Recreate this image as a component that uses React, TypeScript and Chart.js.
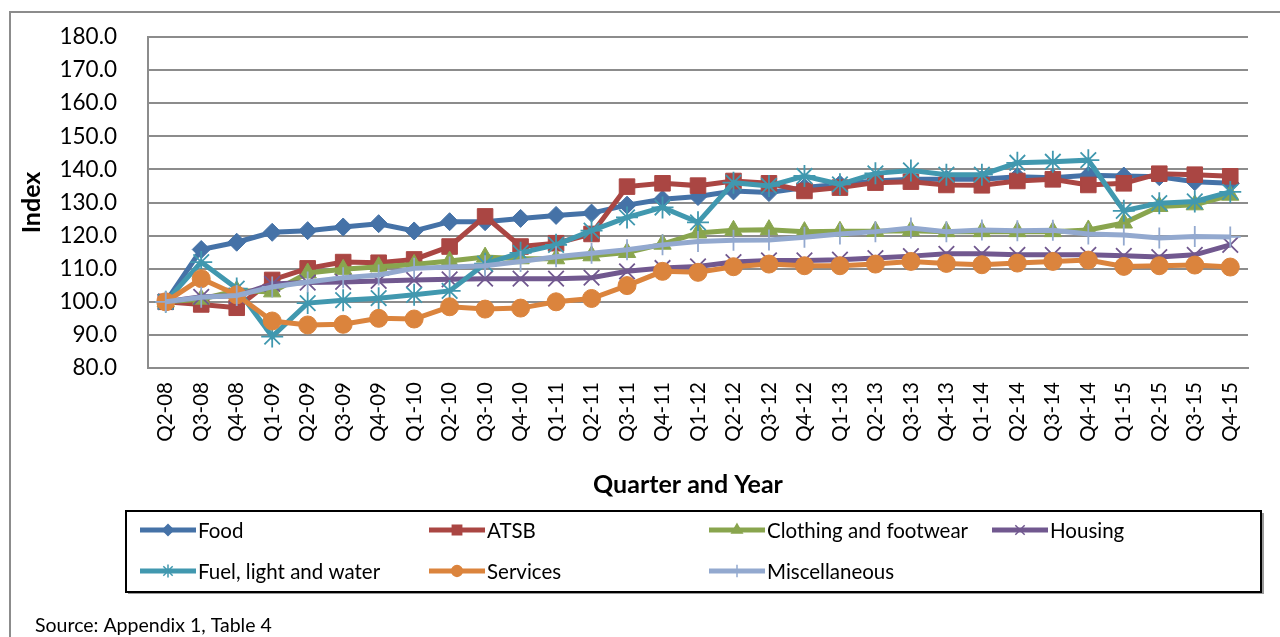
import React, { useEffect, useRef } from "react";
import { Chart, registerables } from "chart.js";
import { drawPoint } from "chart.js/helpers";

Chart.register(...registerables);

const categories = [
  "Q2-08", "Q3-08", "Q4-08", "Q1-09", "Q2-09", "Q3-09", "Q4-09", "Q1-10", "Q2-10", "Q3-10",
  "Q4-10", "Q1-11", "Q2-11", "Q3-11", "Q4-11", "Q1-12", "Q2-12", "Q3-12", "Q4-12", "Q1-13",
  "Q2-13", "Q3-13", "Q4-13", "Q1-14", "Q2-14", "Q3-14", "Q4-14", "Q1-15", "Q2-15", "Q3-15", "Q4-15",
];

const food = [100, 115.8, 118, 121, 121.5, 122.6, 123.6, 121.4, 124.2, 124.2, 125.2, 126.1, 126.8, 129.2, 131, 131.8, 133.5, 133, 134.5, 135.5, 136.5, 137, 137, 137, 137.8, 137.5, 138.2, 138, 137.8, 136.3, 135.8];
const atsb = [100, 99.2, 98.2, 106.6, 110.1, 112, 111.8, 112.8, 116.7, 125.8, 116.7, 117.7, 120.5, 134.8, 135.8, 135.1, 136.5, 135.8, 133.5, 134.5, 136, 136.3, 135.3, 135.2, 136.5, 137, 135.3, 135.8, 138.7, 138.4, 137.9];
const clothing = [100, 100.8, 103.4, 103, 108.7, 109.8, 110.6, 111.3, 112.3, 113.5, 113, 113, 113.9, 114.9, 117.4, 120.8, 121.6, 121.8, 121.2, 121.3, 121.3, 121.5, 121.2, 121.2, 121.2, 121.2, 121.7, 123.8, 128.8, 129.3, 132.2];
const housing = [100, 101.5, 101.8, 105.4, 105.8, 106, 106.3, 106.6, 106.8, 107, 107, 107, 107.3, 109.2, 110.2, 110.7, 112, 112.5, 112.5, 112.7, 113.2, 113.8, 114.5, 114.5, 114.2, 114.2, 114.2, 113.9, 113.5, 114.2, 117.2];
const fuel = [100, 112, 104, 89.5, 99.6, 100.5, 101.1, 102.1, 103.3, 111.5, 114.8, 117.2, 121.5, 125.5, 128.5, 124, 136, 135, 138, 135.5, 138.8, 139.7, 138.4, 138.4, 142, 142.3, 142.8, 127.5, 129.8, 130.3, 133.2];
const services = [100, 107, 102.1, 94.2, 93, 93.2, 95, 94.8, 98.5, 97.8, 98.1, 100, 101, 104.9, 109.2, 108.9, 110.6, 111.4, 110.9, 110.9, 111.4, 112.2, 111.6, 111.2, 111.7, 112.2, 112.6, 110.7, 110.9, 111.1, 110.5];
const misc = [100, 101.4, 101.9, 104.5, 106, 107.3, 108.1, 110.1, 110.5, 110.9, 112.2, 113.6, 114.7, 115.7, 117.2, 118.2, 118.6, 118.7, 119.5, 120.5, 121.2, 122.3, 121.2, 121.7, 121.5, 121.6, 120.5, 120.2, 119.3, 119.7, 119.6];

const yTicks = [80, 90, 100, 110, 120, 130, 140, 150, 160, 170, 180];

const seriesNames = ["Food", "ATSB", "Clothing and footwear", "Housing", "Fuel, light and water", "Services", "Miscellaneous"];
const seriesValues = [food, atsb, clothing, housing, fuel, services, misc];
const seriesColors = ["#4572A7", "#AA4643", "#89A54E", "#71588F", "#4198AF", "#DB843D", "#93A9CF"];
const seriesMarkers = ["rectRot", "rect", "triangle", "crossRot", "star", "circle", "cross"];
const markerRadius = [9, 11, 10, 11, 11, 9, 10.5];

const FONT = "Lato, 'Open Sans', sans-serif";

const framePlugin = {
  id: "frame",
  beforeDraw(chart: any) {
    const ctx = chart.ctx;
    ctx.save();
    ctx.fillStyle = "#ffffff";
    ctx.fillRect(0, 0, chart.width, chart.height);
    ctx.strokeStyle = "#8c8c8c";
    ctx.lineWidth = 2;
    ctx.beginPath();
    ctx.moveTo(10, 637);
    ctx.lineTo(10, 12);
    ctx.lineTo(1280, 12);
    ctx.stroke();
    ctx.restore();
  },
  afterDraw(chart: any) {
    const ctx = chart.ctx;
    ctx.save();
    // x axis title
    ctx.font = `bold 25px ${FONT}`;
    ctx.fillStyle = "#000000";
    ctx.textAlign = "center";
    ctx.textBaseline = "middle";
    ctx.fillText("Quarter and Year", 688, 485);

    // legend box with shadow
    ctx.fillStyle = "#9a9a9a";
    ctx.fillRect(128, 591, 1135, 3);
    ctx.fillRect(1261, 513, 3, 81);
    ctx.strokeStyle = "#000000";
    ctx.lineWidth = 2;
    ctx.strokeRect(126, 511, 1135, 81);

    const textX = [198, 487, 767, 1050];
    const rows = [530, 571];
    ctx.font = `20.5px ${FONT}`;
    ctx.textBaseline = "middle";
    ctx.textAlign = "left";
    seriesNames.forEach((name, i) => {
      const col = i < 4 ? i : i - 4;
      const row = i < 4 ? 0 : 1;
      const tx = textX[col];
      const y = rows[row];
      const color = seriesColors[i];
      ctx.strokeStyle = color;
      ctx.lineWidth = 5;
      ctx.lineCap = "butt";
      ctx.beginPath();
      ctx.moveTo(tx - 58, y);
      ctx.lineTo(tx - 2, y);
      ctx.stroke();
      ctx.fillStyle = color;
      ctx.strokeStyle = color;
      ctx.lineWidth = 1.5;
      drawPoint(ctx, { pointStyle: seriesMarkers[i] as any, radius: markerRadius[i] * 0.6, rotation: 0, borderWidth: 1.5 } as any, tx - 30, y);
      ctx.fillStyle = "#000000";
      ctx.fillText(name, tx, y + 1);
    });

    ctx.font = `19.5px ${FONT}`;
    ctx.fillStyle = "#000000";
    ctx.textBaseline = "alphabetic";
    ctx.fillText("Source: Appendix 1, Table 4", 35, 632);
    ctx.restore();
  },
};

export default function App() {
  const canvasRef = useRef<HTMLCanvasElement | null>(null);

  useEffect(() => {
    document.body.style.margin = "0";
    const canvas = canvasRef.current;
    if (!canvas) return;
    const datasets = seriesNames.map((name, i) => ({
      label: name,
      data: seriesValues[i],
      borderColor: seriesColors[i],
      backgroundColor: seriesColors[i],
      pointBackgroundColor: seriesColors[i],
      pointBorderColor: seriesColors[i],
      pointStyle: seriesMarkers[i] as any,
      pointRadius: markerRadius[i],
      pointBorderWidth: ["star", "cross", "crossRot"].includes(seriesMarkers[i]) ? 1.8 : 1,
      borderWidth: 5,
      tension: 0,
      fill: false,
      order: seriesNames.length - 1 - i,
    }));

    const chart = new Chart(canvas, {
      type: "line",
      data: { labels: categories, datasets },
      options: {
        animation: false,
        responsive: false,
        devicePixelRatio: 1,
        layout: { padding: { left: 0, top: 37, right: 32, bottom: 137 } },
        plugins: {
          legend: { display: false },
          tooltip: { enabled: false },
        },
        scales: {
          x: {
            offset: true,
            grid: { display: false, drawTicks: false },
            border: { display: true, color: "#8c8c8c", width: 2 },
            ticks: {
              minRotation: 90,
              maxRotation: 90,
              autoSkip: false,
              padding: 14,
              color: "#000000",
              font: { family: FONT, size: 20.5 },
            },
            title: { display: false },
            afterFit: (scale: any) => {
              scale.height = 132;
              scale.paddingLeft = 0;
              scale.paddingRight = 0;
            },
          },
          y: {
            min: 80,
            max: 180,
            afterBuildTicks: (scale: any) => {
              scale.ticks = yTicks.map((v) => ({ value: v }));
            },
            grid: { display: true, color: "#8c8c8c", lineWidth: 2, drawTicks: false },
            border: { display: true, color: "#8c8c8c", width: 2 },
            ticks: {
              padding: 31,
              color: "#000000",
              font: { family: FONT, size: 22.5 },
              callback: (v: any) => Number(v).toFixed(1),
            },
            title: {
              display: true,
              text: "Index",
              color: "#000000",
              font: { family: FONT, size: 25, weight: "bold" },
              padding: { top: 17, bottom: 0 },
            },
            afterFit: (scale: any) => {
              scale.width = 148;
              scale.paddingTop = 0;
              scale.paddingBottom = 0;
            },
          },
        },
      },
      plugins: [framePlugin],
    });
    return () => chart.destroy();
  }, []);

  return (
    <div style={{ width: 1280, height: 637, position: "relative" }}>
      <canvas ref={canvasRef} width={1280} height={637} style={{ display: "block", width: 1280, height: 637 }} />
    </div>
  );
}
